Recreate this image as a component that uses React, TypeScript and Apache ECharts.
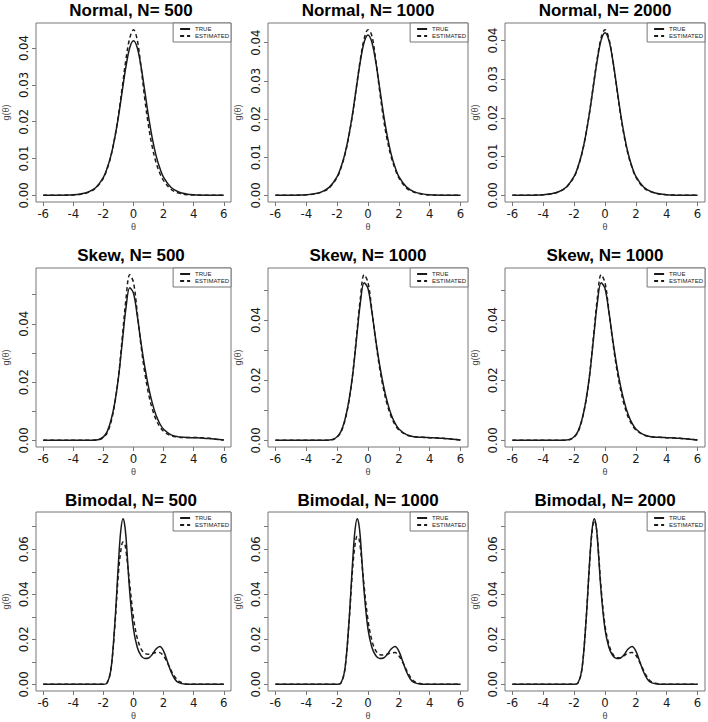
import React, { useEffect, useRef } from "react";
import * as echarts from "echarts";

// ---------- data ----------
const TITLES = [
  "Normal, N= 500", "Normal, N= 1000", "Normal, N= 2000",
  "Skew, N= 500", "Skew, N= 1000", "Skew, N= 1000",
  "Bimodal, N= 500", "Bimodal, N= 1000", "Bimodal, N= 2000",
];
const SERIES_NAMES = ["TRUE", "ESTIMATED"];
const X_TICKS = [-6, -4, -2, 0, 2, 4, 6];

const NORMAL_X = [-6, -5, -4, -3.5, -3, -2.5, -2, -1.75, -1.5, -1.25, -1, -0.75, -0.5, -0.25, 0, 0.25, 0.5, 0.75, 1, 1.25, 1.5, 1.75, 2, 2.5, 3, 3.5, 4, 5, 6];
const NORMAL_TRUE = [0, 0.00003, 0.00016, 0.00039, 0.00093, 0.00216, 0.0049, 0.0074, 0.0108, 0.0155, 0.0214, 0.0283, 0.035, 0.0401, 0.042, 0.0401, 0.035, 0.0283, 0.0214, 0.0155, 0.0108, 0.0074, 0.0049, 0.00216, 0.00093, 0.00039, 0.00016, 0.00003, 0];
const NORMAL_EST_500 = [0, 0.00002, 0.00012, 0.0003, 0.0008, 0.002, 0.0047, 0.0072, 0.0107, 0.0156, 0.0218, 0.0293, 0.037, 0.0427, 0.045, 0.0422, 0.0348, 0.0262, 0.0188, 0.0131, 0.0089, 0.006, 0.004, 0.0016, 0.0006, 0.0002, 0.0001, 0.00001, 0];
const NORMAL_EST_1000 = [0, 0.00002, 0.00014, 0.00035, 0.00085, 0.002, 0.0047, 0.0072, 0.0106, 0.0153, 0.0212, 0.0284, 0.0355, 0.041, 0.0434, 0.0418, 0.0355, 0.0275, 0.0202, 0.0144, 0.0101, 0.007, 0.0046, 0.0019, 0.0008, 0.0003, 0.0001, 0.00002, 0];
const NORMAL_EST_2000 = [0, 0.00003, 0.00015, 0.00037, 0.0009, 0.0021, 0.0048, 0.0073, 0.0107, 0.0155, 0.0215, 0.0285, 0.0354, 0.0407, 0.0428, 0.0405, 0.0351, 0.0281, 0.0210, 0.0151, 0.0105, 0.0072, 0.0047, 0.002, 0.0009, 0.00035, 0.00015, 0.00003, 0];

const SKEW_X = [-6, -5, -4, -3, -2.5, -2.25, -2, -1.75, -1.5, -1.25, -1, -0.75, -0.5, -0.25, 0, 0.25, 0.5, 0.75, 1, 1.25, 1.5, 1.75, 2, 2.5, 3, 3.5, 4, 4.5, 5, 5.5, 6];
const SKEW_TRUE = [0, 0, 0, 0.00002, 0.0001, 0.0004, 0.0012, 0.003, 0.0068, 0.0128, 0.0215, 0.0335, 0.0455, 0.0524, 0.0505, 0.0428, 0.0335, 0.0252, 0.0183, 0.0128, 0.0086, 0.0057, 0.0038, 0.0019, 0.0012, 0.001, 0.0009, 0.0008, 0.0006, 0.0004, 0.0001];
const SKEW_EST_500 = [0, 0, 0, 0.00002, 0.0001, 0.0003, 0.001, 0.0026, 0.0062, 0.0125, 0.0218, 0.035, 0.0485, 0.0569, 0.0542, 0.0438, 0.0325, 0.0232, 0.016, 0.0108, 0.0071, 0.0047, 0.0031, 0.0016, 0.0011, 0.001, 0.001, 0.0009, 0.0007, 0.0004, 0.0001];
const SKEW_EST_1000 = [0, 0, 0, 0.00002, 0.0001, 0.0003, 0.0011, 0.0028, 0.0065, 0.0126, 0.0216, 0.0342, 0.047, 0.0551, 0.0525, 0.0433, 0.033, 0.0242, 0.0172, 0.0118, 0.0079, 0.0052, 0.0035, 0.0018, 0.0012, 0.001, 0.0009, 0.0008, 0.0006, 0.0004, 0.0001];
const SKEW_EST_1000B = [0, 0, 0, 0.00002, 0.0001, 0.0003, 0.0011, 0.0028, 0.0066, 0.0127, 0.0217, 0.0343, 0.0471, 0.0551, 0.0524, 0.0431, 0.0329, 0.0241, 0.0171, 0.0117, 0.0078, 0.0052, 0.0035, 0.0018, 0.0012, 0.001, 0.0009, 0.0008, 0.0006, 0.0004, 0.0001];

const BIMODAL_X = [-6, -5, -4, -3, -2, -1.75, -1.5, -1.25, -1, -0.85, -0.7, -0.6, -0.5, -0.25, 0, 0.25, 0.5, 0.75, 1, 1.25, 1.5, 1.75, 2, 2.25, 2.5, 2.75, 3, 3.5, 4, 5, 6];
const BIMODAL_TRUE = [0, 0, 0, 0, 0.00002, 0.0006, 0.0065, 0.026, 0.054, 0.068, 0.0736, 0.0715, 0.0655, 0.041, 0.0245, 0.0165, 0.0128, 0.0115, 0.0117, 0.0133, 0.0157, 0.0168, 0.0148, 0.0102, 0.0055, 0.0023, 0.0008, 0.0001, 0, 0, 0];
const BIMODAL_EST_500 = [0, 0, 0, 0, 0.00003, 0.0008, 0.0068, 0.025, 0.0495, 0.059, 0.0632, 0.0628, 0.0595, 0.0445, 0.0295, 0.0205, 0.0158, 0.0138, 0.0134, 0.0137, 0.0142, 0.0141, 0.0126, 0.0097, 0.0062, 0.0033, 0.0014, 0.0002, 0, 0, 0];
const BIMODAL_EST_1000 = [0, 0, 0, 0, 0.00003, 0.0007, 0.0067, 0.0255, 0.051, 0.0615, 0.0658, 0.065, 0.061, 0.0435, 0.0285, 0.0195, 0.015, 0.0132, 0.013, 0.0134, 0.014, 0.0141, 0.0127, 0.0098, 0.0062, 0.0032, 0.0013, 0.0002, 0, 0, 0];
const BIMODAL_EST_2000 = [0, 0, 0, 0, 0.00002, 0.0006, 0.0066, 0.0262, 0.0535, 0.067, 0.0728, 0.0712, 0.0658, 0.0425, 0.0262, 0.0178, 0.0135, 0.0118, 0.0118, 0.0128, 0.0139, 0.0142, 0.0129, 0.0098, 0.0062, 0.0031, 0.0012, 0.0002, 0, 0, 0];

const NORMAL_Y_TICKS = [0, 0.01, 0.02, 0.03, 0.04];
const NORMAL_Y_LABELS = [0, 0.01, 0.02, 0.03, 0.04];
const SKEW_Y_TICKS = [0, 0.01, 0.02, 0.03, 0.04, 0.05];
const SKEW_Y_LABELS = [0, 0.02, 0.04];
const BIMODAL_Y_TICKS = [0, 0.01, 0.02, 0.03, 0.04, 0.05, 0.06, 0.07];
const BIMODAL_Y_LABELS = [0, 0.02, 0.04, 0.06];

const ROWS = [
  { x: NORMAL_X, truth: NORMAL_TRUE, est: [NORMAL_EST_500, NORMAL_EST_1000, NORMAL_EST_2000], ticks: NORMAL_Y_TICKS, labels: NORMAL_Y_LABELS },
  { x: SKEW_X, truth: SKEW_TRUE, est: [SKEW_EST_500, SKEW_EST_1000, SKEW_EST_1000B], ticks: SKEW_Y_TICKS, labels: SKEW_Y_LABELS },
  { x: BIMODAL_X, truth: BIMODAL_TRUE, est: [BIMODAL_EST_500, BIMODAL_EST_1000, BIMODAL_EST_2000], ticks: BIMODAL_Y_TICKS, labels: BIMODAL_Y_LABELS },
];

// ---------- layout ----------
const W = 708;
const H = 722;
const COL_LEFT = [31, 268, 505];
const ROW_TOP = [23, 268, 512];
const TITLE_TOP = [2, 247, 492];
const GW = 200;
const GH = 179;
const FONT = "'Liberation Sans', Arial, Helvetica, sans-serif";
const TICK_FONT = "'Liberation Sans Narrow', 'DejaVu Sans Condensed', 'Liberation Sans', Arial, sans-serif";
const FRAME = "#777";
const INK = "#1a1a1a";

function buildOption() {
  const grid: any[] = [];
  const xAxis: any[] = [];
  const yAxis: any[] = [];
  const series: any[] = [];
  const title: any[] = [];
  const legend: any[] = [];

  ROWS.forEach((row, r) => {
    for (let c = 0; c < 3; c++) {
      const i = r * 3 + c;
      const est = row.est[c];
      const M = Math.max(...row.truth, ...est);
      const left = COL_LEFT[c];
      const top = ROW_TOP[r];
      grid.push({ left, top, width: GW, height: GH, show: true, borderColor: FRAME, borderWidth: 1, backgroundColor: "transparent", containLabel: false });
      title.push({
        text: TITLES[i], left: left + GW / 2, top: TITLE_TOP[r], textAlign: "center", padding: 0,
        textStyle: { fontFamily: FONT, fontWeight: "bold", fontSize: 17, color: "#000" },
      });
      legend.push({
        data: SERIES_NAMES, orient: "vertical", right: W - (left + GW), top,
        itemWidth: 10, itemHeight: 6, itemGap: 1, itemTextGap: 5,
        padding: [3, 2, 3, 6], borderColor: FRAME, borderWidth: 1, borderRadius: 0,
        backgroundColor: "#fff", selectedMode: false,
        itemStyle: { opacity: 0 },
        textStyle: { fontFamily: FONT, fontSize: 6, color: INK },
      });
      xAxis.push({
        gridIndex: i, type: "value", min: -6.48, max: 6.48,
        name: "θ", nameLocation: "middle", nameGap: 20,
        nameTextStyle: { fontFamily: FONT, fontSize: 9, color: "#444" },
        axisLine: { show: false, onZero: false },
        axisTick: { show: true, customValues: X_TICKS, length: 4, lineStyle: { color: FRAME } },
        axisLabel: { customValues: X_TICKS, margin: 5, fontFamily: TICK_FONT, fontSize: 13, color: INK },
        splitLine: { show: false },
      });
      yAxis.push({
        gridIndex: i, type: "value", min: -0.04 * M, max: 1.04 * M,
        name: "g(θ)", nameLocation: "middle", nameGap: 26,
        nameTextStyle: { fontFamily: FONT, fontSize: 9, color: "#444" },
        axisLine: { show: false, onZero: false },
        axisTick: { show: true, customValues: row.ticks, length: 4, lineStyle: { color: FRAME } },
        axisLabel: {
          customValues: row.labels, rotate: 90, margin: 6, fontFamily: TICK_FONT, fontSize: 13, color: INK,
          formatter: (v: number) => v.toFixed(2),
        },
        splitLine: { show: false },
      });
      series.push({
        name: SERIES_NAMES[0], type: "line", xAxisIndex: i, yAxisIndex: i,
        data: row.x.map((x, k) => [x, row.truth[k]]),
        symbol: "none", smooth: 0.35, silent: true,
        lineStyle: { color: INK, width: 1.5, type: "solid" }, itemStyle: { color: INK },
      });
      series.push({
        name: SERIES_NAMES[1], type: "line", xAxisIndex: i, yAxisIndex: i,
        data: row.x.map((x, k) => [x, est[k]]),
        symbol: "none", smooth: 0.35, silent: true,
        lineStyle: { color: INK, width: 1.5, type: [4, 3] }, itemStyle: { color: INK },
      });
    }
  });

  return { animation: false, backgroundColor: "#fff", grid, xAxis, yAxis, series, title, legend };
}

export default function App() {
  const ref = useRef<HTMLDivElement>(null);
  useEffect(() => {
    document.body.style.margin = "0";
    const chart = echarts.init(ref.current!, null, { renderer: "svg" });
    chart.setOption(buildOption());
    return () => chart.dispose();
  }, []);
  return <div ref={ref} style={{ position: "absolute", left: 0, top: 0, width: W, height: H }} />;
}
